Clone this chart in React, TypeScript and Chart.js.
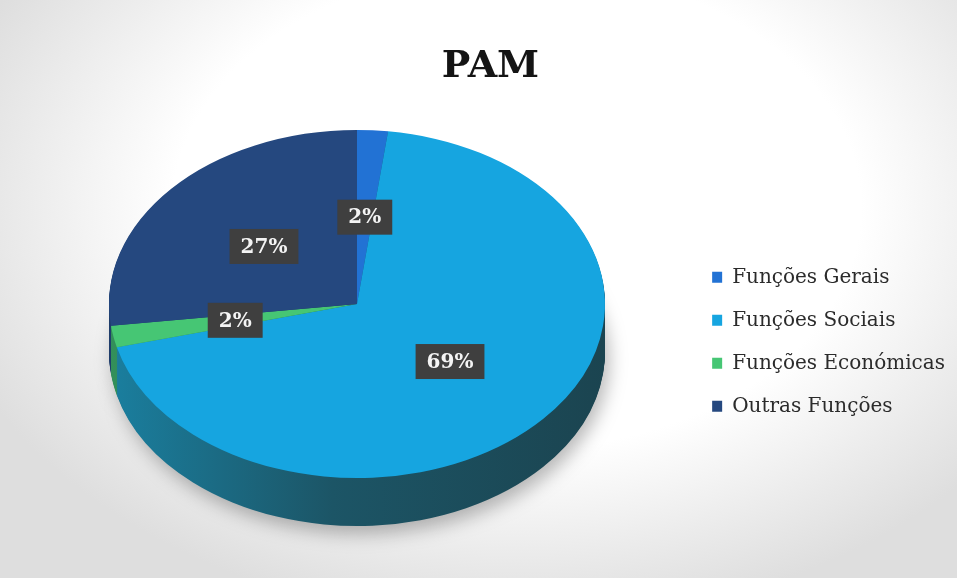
import React, { useEffect, useRef } from 'react';
import { Chart, registerables } from 'chart.js';

Chart.register(...registerables);

const TITLE = 'PAM';
const categories = ['Funções Gerais', 'Funções Sociais', 'Funções Económicas', 'Outras Funções'];
const values = [2, 69, 2, 27];

const topColors = ['#2272d4', '#16a5e0', '#46c674', '#25487f'];
const wallLeft = ['#1d5aa0', '#1a7f9f', '#33905a', '#1f3d6b'];
const wallMid = ['#15498a', '#1c5566', '#287348', '#18325a'];
const wallRight = ['#123f75', '#1b4450', '#226a40', '#142848'];

const PIE = { cx: 357, cy: 304, rx: 248, ry: 174, depth: 48 };

const total = values.reduce((a, b) => a + b, 0);
const percentLabels = values.map((v) => `${Math.round((v / total) * 100)}%`);

function pieTransform(ctx: CanvasRenderingContext2D, chart: any, dy: number) {
  const a0 = chart.getDatasetMeta(0).data[0] as any;
  const r = a0.outerRadius;
  ctx.translate(PIE.cx, PIE.cy + dy);
  ctx.scale(PIE.rx / r, PIE.ry / r);
  ctx.translate(-a0.x, -a0.y);
}

const pie3d = {
  id: 'pie3d',
  beforeDatasetsDraw(chart: any) {
    const ctx: CanvasRenderingContext2D = chart.ctx;
    const meta = chart.getDatasetMeta(0);
    const a0 = meta.data[0] as any;
    const r = a0.outerRadius;
    for (let d = PIE.depth; d >= 1; d--) {
      ctx.save();
      if (d === PIE.depth) {
        ctx.shadowColor = 'rgba(0,0,0,0.28)';
        ctx.shadowBlur = 18;
        ctx.shadowOffsetY = 8;
        ctx.shadowOffsetX = 4;
      }
      pieTransform(ctx, chart, d);
      meta.data.forEach((arc: any, i: number) => {
        const g = ctx.createLinearGradient(a0.x - r, 0, a0.x + r, 0);
        g.addColorStop(0, wallLeft[i]);
        g.addColorStop(0.45, wallMid[i]);
        g.addColorStop(1, wallRight[i]);
        const orig = arc.options;
        arc.options = { ...orig, backgroundColor: g, borderWidth: 0 };
        arc.draw(ctx);
        arc.options = orig;
      });
      ctx.restore();
    }
    ctx.save();
    pieTransform(ctx, chart, 0);
  },
  afterDatasetsDraw(chart: any) {
    const ctx: CanvasRenderingContext2D = chart.ctx;
    ctx.restore();
    const meta = chart.getDatasetMeta(0);
    const a0 = meta.data[0] as any;
    const r = a0.outerRadius;
    ctx.save();
    ctx.font = 'bold 20px "DejaVu Serif"';
    ctx.textAlign = 'center';
    ctx.textBaseline = 'middle';
    meta.data.forEach((arc: any, i: number) => {
      const p = arc.getCenterPoint();
      const x = PIE.cx + ((p.x - a0.x) * PIE.rx) / r;
      const y = PIE.cy + ((p.y - a0.y) * PIE.ry) / r;
      const text = percentLabels[i];
      const w = ctx.measureText(text).width + 22;
      const h = 35;
      ctx.fillStyle = '#3f3f3f';
      ctx.fillRect(x - w / 2, y - h / 2, w, h);
      ctx.fillStyle = '#f4f4f4';
      ctx.fillText(text, x, y + 1);
    });
    ctx.restore();
  },
};

export default function App() {
  const ref = useRef<HTMLCanvasElement | null>(null);

  useEffect(() => {
    if (!ref.current) return;
    const chart = new Chart(ref.current, {
      type: 'pie',
      data: {
        labels: categories,
        datasets: [
          {
            data: values,
            backgroundColor: topColors,
            borderWidth: 0,
            clip: false as any,
          },
        ],
      },
      options: {
        responsive: false,
        animation: false,
        events: [],
        layout: { padding: { left: 26, right: 2, top: 0, bottom: 0 } },
        plugins: {
          tooltip: { enabled: false },
          title: {
            display: true,
            text: TITLE,
            color: '#141414',
            font: { family: '"DejaVu Serif"', size: 38, weight: 'bold' },
            padding: { top: 44, bottom: 16 },
          },
          legend: {
            position: 'right',
            fullSize: false,
            labels: {
              color: '#2b2b2b',
              font: { family: '"DejaVu Serif"', size: 20 },
              boxWidth: 10,
              boxHeight: 11,
              padding: 23,
            },
          },
        },
      },
      plugins: [pie3d],
    });
    return () => chart.destroy();
  }, []);

  return (
    <div
      style={{
        position: 'fixed',
        left: 0,
        top: 0,
        width: 957,
        height: 578,
        background:
          'radial-gradient(ellipse 62% 72% at 54% 36%, #ffffff 58%, #ececec 82%, #dedede 100%)',
      }}
    >
      <canvas ref={ref} width={957} height={578} />
    </div>
  );
}
